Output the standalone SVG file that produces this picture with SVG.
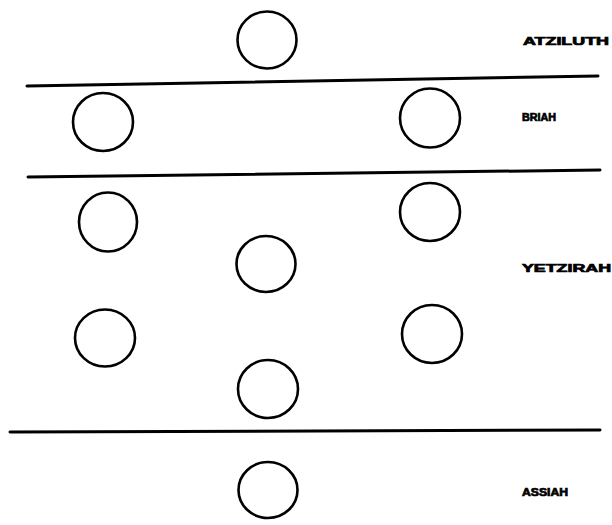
<svg xmlns="http://www.w3.org/2000/svg" width="612" height="525" viewBox="0 0 612 525">
<style>
.c{fill:none;stroke:#000;stroke-width:2.6}
.l{stroke:#000;stroke-width:3;stroke-linecap:round}
.t{font-family:"Liberation Sans",Arial,sans-serif;font-weight:bold;font-size:10.5px;fill:#000;stroke:#000;stroke-width:0.7}
</style>
<rect width="612" height="525" fill="#fff"/>
<g id="dividers">
<path class="l" d="M27 86 L598 76"/>
<path class="l" d="M28 177 L600 170"/>
<path class="l" d="M10 432 L600 430"/>
</g>
<g id="atziluth-circle"><ellipse class="c" cx="267" cy="40" rx="29.5" ry="28.5"/></g>
<g id="briah-left"><ellipse class="c" cx="103" cy="122" rx="30" ry="29"/></g>
<g id="briah-right"><ellipse class="c" cx="430" cy="118" rx="30" ry="29.5"/></g>
<g id="yetzirah-left-top"><ellipse class="c" cx="108" cy="222" rx="29" ry="29.5"/></g>
<g id="yetzirah-right-top"><ellipse class="c" cx="430" cy="212" rx="30" ry="29"/></g>
<g id="yetzirah-middle-top"><ellipse class="c" cx="266" cy="264" rx="29.5" ry="28"/></g>
<g id="yetzirah-left-bottom"><ellipse class="c" cx="105" cy="338" rx="30" ry="28.5"/></g>
<g id="yetzirah-right-bottom"><ellipse class="c" cx="432" cy="334" rx="30" ry="29"/></g>
<g id="yetzirah-middle-bottom"><ellipse class="c" cx="268" cy="389" rx="30" ry="29"/></g>
<g id="assiah-circle"><ellipse class="c" cx="268" cy="490" rx="29.5" ry="28"/></g>
<g id="labels">
<text class="t" x="523" y="45" textLength="86" lengthAdjust="spacingAndGlyphs">ATZILUTH</text>
<text class="t" x="522" y="121" textLength="34" lengthAdjust="spacingAndGlyphs">BRIAH</text>
<text class="t" x="522" y="272" textLength="89" lengthAdjust="spacingAndGlyphs">YETZIRAH</text>
<text class="t" x="522" y="496" textLength="46" lengthAdjust="spacingAndGlyphs">ASSIAH</text>
</g>
</svg>
